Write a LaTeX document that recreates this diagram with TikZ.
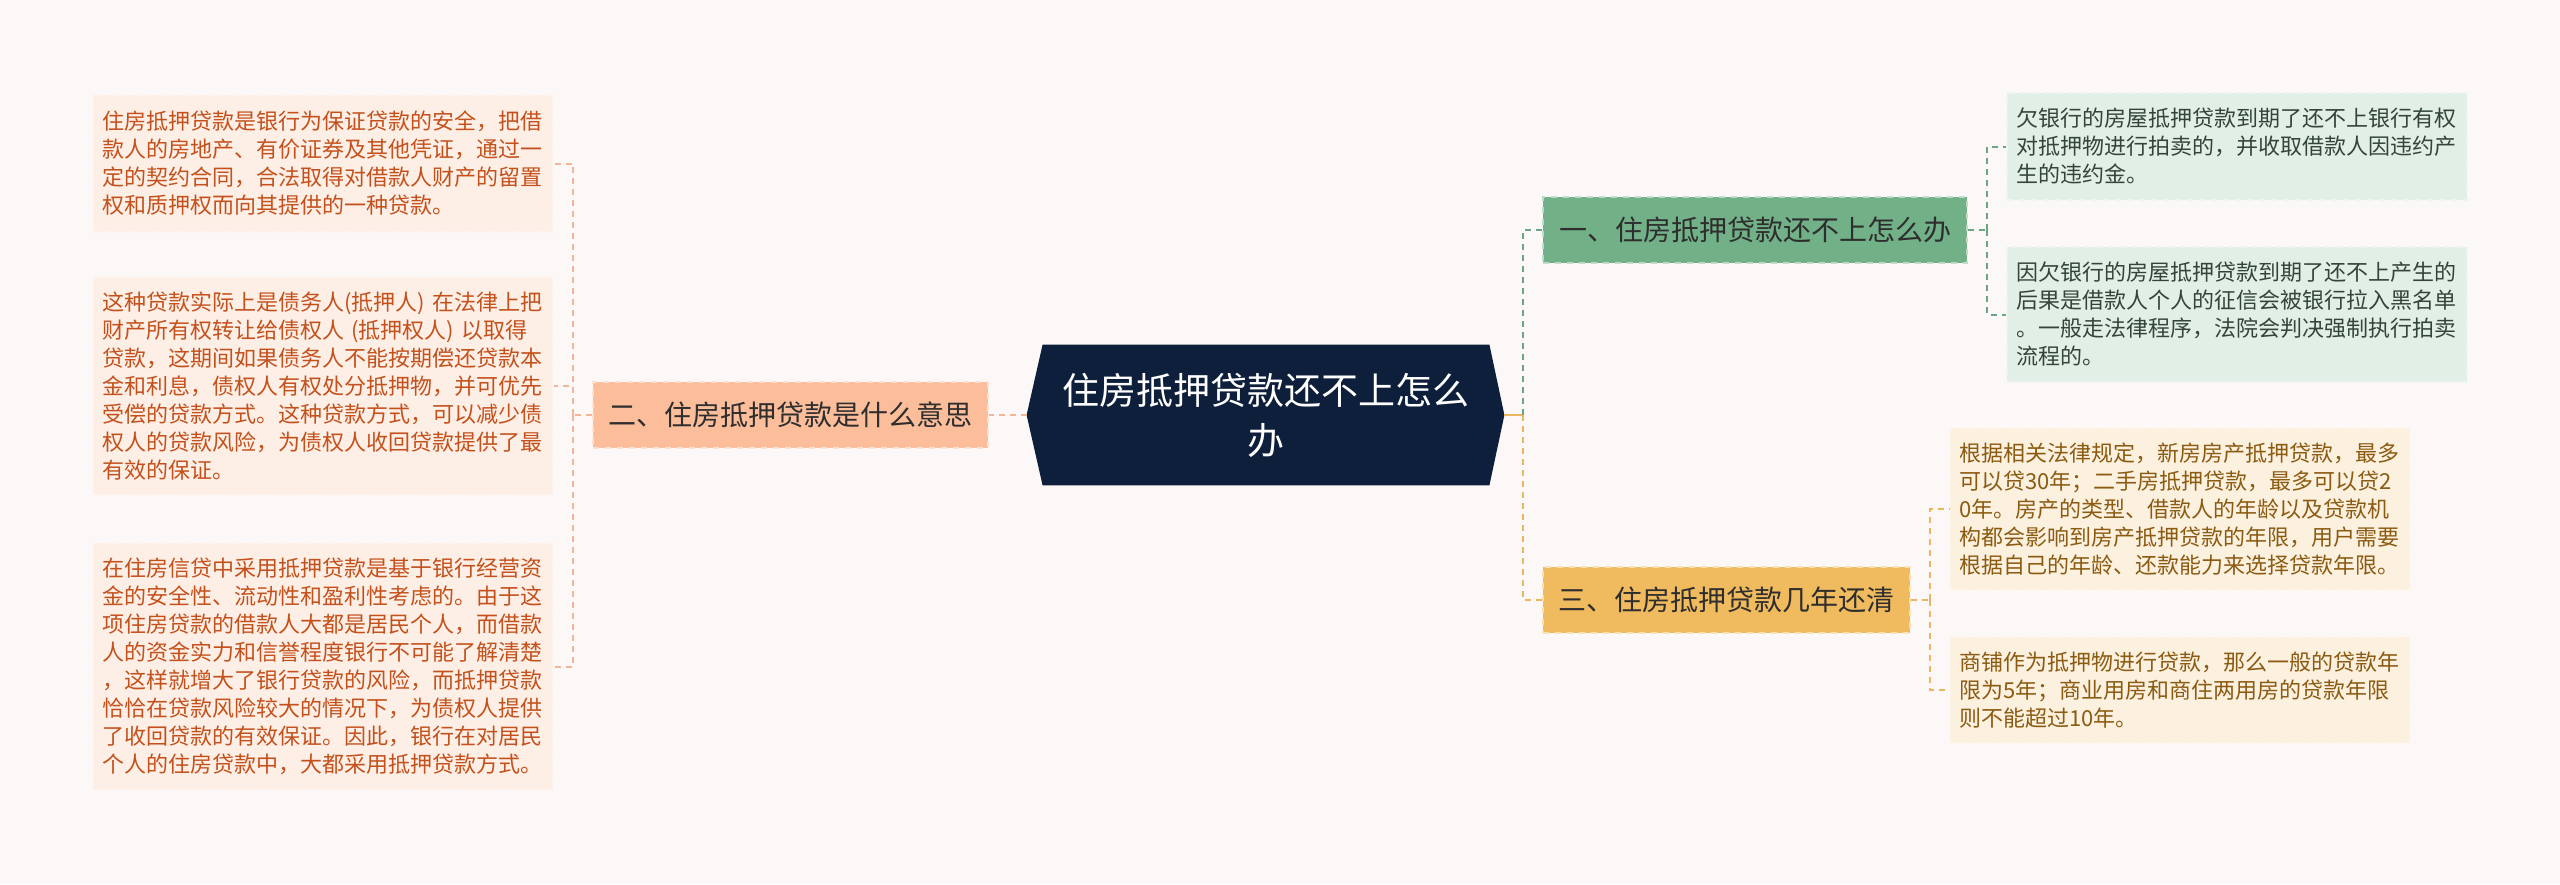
\documentclass[tikz,border=0pt]{standalone}
\usepackage{fontspec}
\newfontfamily\cjk{Noto Sans CJK SC}
\usetikzlibrary{backgrounds}
\definecolor{bgcol}{HTML}{FCF8F7}
\definecolor{rootcol}{HTML}{0E1F3B}
\definecolor{salcol}{HTML}{FBBD9A}
\definecolor{sallink}{HTML}{F3B596}
\definecolor{salleaf}{HTML}{FDEFE6}
\definecolor{saltext}{HTML}{C4511C}
\definecolor{grncol}{HTML}{72B088}
\definecolor{grnlink}{HTML}{6BA583}
\definecolor{grnleaf}{HTML}{E2EFE6}
\definecolor{grntext}{HTML}{33453A}
\definecolor{yelcol}{HTML}{F0BA5E}
\definecolor{yellink}{HTML}{EBB662}
\definecolor{yelleaf}{HTML}{FCF0DF}
\definecolor{yeltext}{HTML}{8C5B12}
\begin{document}
\begin{tikzpicture}[x=0.5pt,y=-0.5pt,
	rootbox/.style={rectangle,inner sep=0pt,minimum width=223pt,minimum height=70pt,
		align=center,text=white,font=\cjk\fontsize{18.5}{25}\selectfont},
	branch/.style={rectangle,dashed,line width=0.8pt,inner xsep=7.5pt,minimum height=33pt,
		text=black!82,font=\cjk\fontsize{14}{17}\selectfont},
	leaf/.style={rectangle,dashed,line width=0.6pt,text width=221pt,inner xsep=4.5pt,
		inner ysep=0pt,align=left,font=\cjk\fontsize{11}{14}\selectfont},
	link/.style={dash pattern=on 3pt off 2.5pt,line width=1pt}]
		\useasboundingbox (0,0) rectangle (2560,884);
		\node[rootbox] (R) at (1266,415) {住房抵押贷款还不上怎么\\办};
		\coordinate (RW) at ([xshift=-8pt]R.west);
		\coordinate (RE) at ([xshift=7.5pt]R.east);
		\begin{scope}[on background layer]
		\fill[bgcol] (0,0) rectangle (2560,884);
		\fill[rootcol] (R.north west) -- (R.north east) -- (RE) -- (R.south east)
			-- (R.south west) -- (RW) -- cycle;
		\end{scope}
		
		\node[branch,fill=salcol,draw=salcol!45!white,minimum width=197.5pt] (B2) at (790.5,415) {二、住房抵押贷款是什么意思};
		\node[branch,fill=grncol,draw=grncol!45!white,minimum width=212pt] (B1) at (1755,230) {一、住房抵押贷款还不上怎么办};
		\node[branch,fill=yelcol,draw=yelcol!45!white,minimum width=183.5pt] (B3) at (1726.5,600) {三、住房抵押贷款几年还清};
		
		\begin{scope}[every node/.style={leaf,fill=salleaf,draw=salleaf!60!white,text=saltext}]
		\node[minimum height=68.5pt] (L1) at (323,163.5) {住房抵押贷款是银行为保证贷款的安全，把借\\款人的房地产、有价证券及其他凭证，通过一\\定的契约合同，合法取得对借款人财产的留置\\权和质押权而向其提供的一种贷款。};
		\node[minimum height=109pt] (L2) at (323,386) {这种贷款实际上是债务人(抵押人)~在法律上把\\财产所有权转让给债权人~(抵押权人)~以取得\\贷款，这期间如果债务人不能按期偿还贷款本\\金和利息，债权人有权处分抵押物，并可优先\\受偿的贷款方式。这种贷款方式，可以减少债\\权人的贷款风险，为债权人收回贷款提供了最\\有效的保证。};
		\node[minimum height=123.5pt] (L3) at (323,666.5) {在住房信贷中采用抵押贷款是基于银行经营资\\金的安全性、流动性和盈利性考虑的。由于这\\项住房贷款的借款人大都是居民个人，而借款\\人的资金实力和信誉程度银行不可能了解清楚\\，这样就增大了银行贷款的风险，而抵押贷款\\恰恰在贷款风险较大的情况下，为债权人提供\\了收回贷款的有效保证。因此，银行在对居民\\个人的住房贷款中，大都采用抵押贷款方式。};
		\end{scope}
		
		\begin{scope}[every node/.style={leaf,fill=grnleaf,draw=grnleaf!60!white,text=grntext}]
		\node[minimum height=53.5pt] (G1) at (2237,146.5) {欠银行的房屋抵押贷款到期了还不上银行有权\\对抵押物进行拍卖的，并收取借款人因违约产\\生的违约金。};
		\node[minimum height=67.5pt] (G2) at (2237,314.5) {因欠银行的房屋抵押贷款到期了还不上产生的\\后果是借款人个人的征信会被银行拉入黑名单\\。一般走法律程序，法院会判决强制执行拍卖\\流程的。};
		\end{scope}
		
		\begin{scope}[every node/.style={leaf,fill=yelleaf,draw=yelleaf!60!white,text=yeltext}]
		\node[minimum height=81pt] (Y1) at (2180,509) {根据相关法律规定，新房房产抵押贷款，最多\\可以贷30年；二手房抵押贷款，最多可以贷2\\0年。房产的类型、借款人的年龄以及贷款机\\构都会影响到房产抵押贷款的年限，用户需要\\根据自己的年龄、还款能力来选择贷款年限。};
		\node[minimum height=53pt] (Y2) at (2180,690) {商铺作为抵押物进行贷款，那么一般的贷款年\\限为5年；商业用房和商住两用房的贷款年限\\则不能超过10年。};
		\end{scope}
		
		\coordinate (TL) at (573,415);
		\coordinate (TR) at (1523,415);
		\coordinate (TG) at (1987,230);
		\coordinate (TY) at (1930,600);
		
		\draw[link,sallink] (RW) -- (B2.east);
		\draw[link,sallink] (B2.west) -- (TL);
		\draw[link,sallink] (TL) |- (L1.east);
		\draw[link,sallink] (TL) |- (L2.east);
		\draw[link,sallink] (TL) |- (L3.east);
		
		\draw[yellink,line width=1.2pt] (RE) -- (TR);
		\draw[link,grnlink] (TR) |- (B1.west);
		\draw[link,yellink] (TR) |- (B3.west);
		
		\draw[link,grnlink] (B1.east) -- (TG);
		\draw[link,grnlink] (TG) |- (G1.west);
		\draw[link,grnlink] (TG) |- (G2.west);
		
		\draw[link,yellink] (B3.east) -- (TY);
		\draw[link,yellink] (TY) |- (Y1.west);
		\draw[link,yellink] (TY) |- (Y2.west);
\end{tikzpicture}
\end{document}
